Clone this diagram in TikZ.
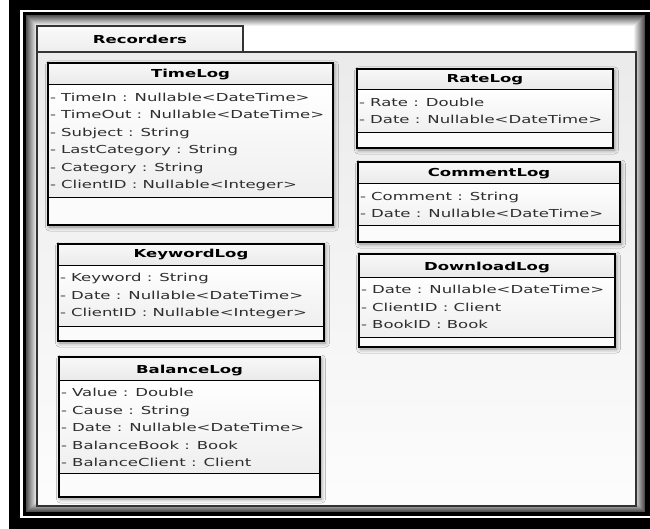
\documentclass[tikz,border=0pt]{standalone}
\usepackage{fontspec}
\newfontfamily\umlfont[FakeStretch=1.5]{DejaVu Sans}
\usetikzlibrary{shadows.blur}

\tikzset{
  every node/.style={font=\umlfont\fontsize{11}{13}\selectfont, inner sep=0pt, outer sep=0pt},
  pkgline/.style={draw=black!80, line width=1.1pt},
  classframe/.style={rectangle, inner sep=0pt, outer sep=0pt,
    blur shadow={shadow xshift=1.5pt, shadow yshift=-2pt, shadow blur radius=4pt, shadow opacity=45}},
  classborder/.style={draw=black, line width=1.3pt},
  sepline/.style={draw=black, line width=1pt},
  classtitle/.style={font=\umlfont\bfseries\fontsize{11}{13}\selectfont, text=black},
  attr/.style={text=black!82},
}

% #1 name, #2..#5 box corners, #6 title rule, #7 attribute rule, #8 title, #9 attributes
\newcommand\umlclass[9]{%
  \node[classframe, anchor=north west, minimum width={#4pt-#2pt}, minimum height={#5pt-#3pt}] (#1) at (#2,#3) {};
  \shade[top color=gray!5, bottom color=gray!17] (#1.north west) rectangle (#1.east |- 0,#6);
  \shade[top color=white, bottom color=gray!13] (#1.west |- 0,#6) rectangle (#1.east |- 0,#7);
  \fill[gray!3] (#1.west |- 0,#7) rectangle (#1.south east);
  \draw[sepline] (#1.west |- 0,#6) -- (#1.east |- 0,#6);
  \draw[sepline] (#1.west |- 0,#7) -- (#1.east |- 0,#7);
  \draw[classborder] (#1.north west) rectangle (#1.south east);
  \node[classtitle, anchor=base] (#1-title) at ({(#2+#4)/2}, #6-7) {#8};
  \foreach \a [count=\i from 0] in {#9}
    \node[attr, anchor=base west] (#1-a\i) at (#2+2, #6+16.5+17.5*\i) {- \a};
}

\begin{document}
\begin{tikzpicture}[x=1pt, y=-1pt]
  \useasboundingbox (0,0) rectangle (650,529);
  % window surround
  \fill[black] (0,0) rectangle (650,529);
  \fill[white] (0,0) rectangle (9,529);
  \draw[white, line width=2.5pt] (660,11) -- (21.5,11) -- (21.5,517) -- (660,517);
  % inner shaded frame
  \foreach \i in {0,...,10} {
    \pgfmathsetmacro\g{68-6.2*\i}
    \fill[black!\g] (26+\i,15+\i) rectangle (645-\i,512-\i);
  }
  \fill[white] (37,26) rectangle (634,500);

  % package
  \node[pkgline, top color=gray!4, bottom color=gray!14, anchor=north west,
        minimum width=206pt, minimum height=26pt] (tab) at (37,26) {};
  \node[classtitle, anchor=base] (tab-label) at (140,44) {Recorders};
  \node[pkgline, top color=gray!16, bottom color=gray!2, anchor=north west,
        minimum width=599pt, minimum height=454pt] (body) at (37,52) {};

  % classes
  \umlclass{timelog}{48}{63}{333}{225}{85}{198}{TimeLog}
    {TimeIn : Nullable<DateTime>, TimeOut : Nullable<DateTime>, Subject : String,
     LastCategory : String, Category : String, ClientID : Nullable<Integer>}
  \umlclass{ratelog}{357}{69}{613}{148}{90}{133}{RateLog}
    {Rate : Double, Date : Nullable<DateTime>}
  \umlclass{commentlog}{358}{162}{620}{242}{184}{226}{CommentLog}
    {Comment : String, Date : Nullable<DateTime>}
  \umlclass{downloadlog}{359}{254}{615}{347}{277}{337}{DownloadLog}
    {Date : Nullable<DateTime>, ClientID : Client, BookID : Book}
  \umlclass{keywordlog}{58}{244}{324}{341}{265}{326}{KeywordLog}
    {Keyword : String, Date : Nullable<DateTime>, ClientID : Nullable<Integer>}
  \umlclass{balancelog}{59}{357}{320}{497}{380}{473}{BalanceLog}
    {Value : Double, Cause : String, Date : Nullable<DateTime>,
     BalanceBook : Book, BalanceClient : Client}
\end{tikzpicture}
\end{document}
